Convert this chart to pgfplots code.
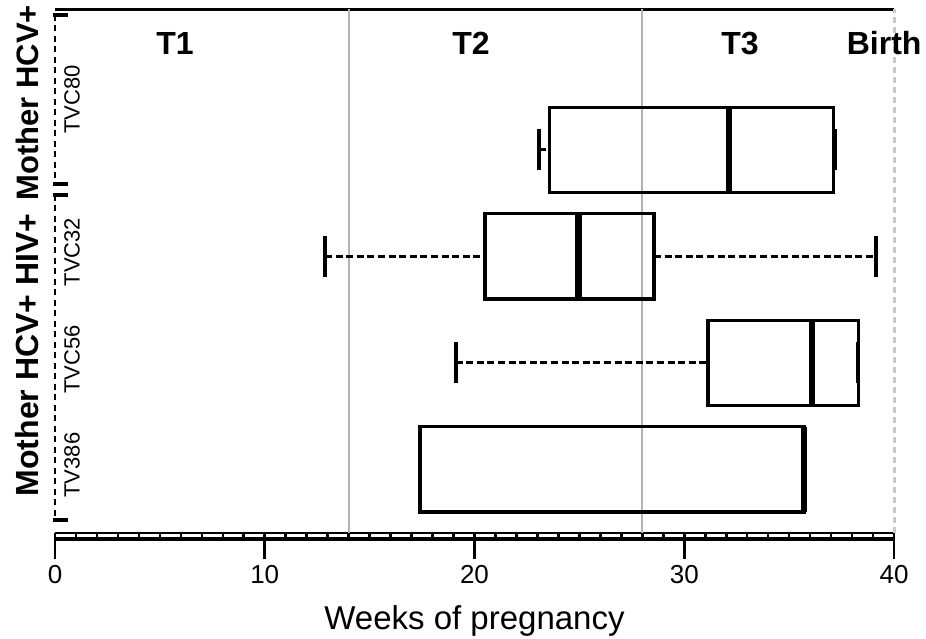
\documentclass[border=0pt]{standalone}
\usepackage{pgfplots}
\pgfplotsset{compat=1.18}
\usepgfplotslibrary{statistics}
\usepackage{fontspec}
\setmainfont{Liberation Sans}

\definecolor{trimline}{HTML}{B4B4B4}
\definecolor{birthline}{HTML}{C8C8C8}

% whiskers: dashed stem, solid cap
\pgfplotsset{
  /pgfplots/boxplot/draw/lower whisker/.code={%
    \draw[black, line width=3pt, dash pattern=on 7pt off 3.6pt]
      (boxplot box cs:\pgfplotsboxplotvalue{lower whisker},0.5) --
      (boxplot box cs:\pgfplotsboxplotvalue{lower quartile},0.5);
    \draw[black, line width=4pt]
      (boxplot whisker cs:\pgfplotsboxplotvalue{lower whisker},0) --
      (boxplot whisker cs:\pgfplotsboxplotvalue{lower whisker},1);
  },
  /pgfplots/boxplot/draw/upper whisker/.code={%
    \draw[black, line width=3pt, dash pattern=on 7pt off 3.6pt]
      (boxplot box cs:\pgfplotsboxplotvalue{upper quartile},0.5) --
      (boxplot box cs:\pgfplotsboxplotvalue{upper whisker},0.5);
    \draw[black, line width=4pt]
      (boxplot whisker cs:\pgfplotsboxplotvalue{upper whisker},0) --
      (boxplot whisker cs:\pgfplotsboxplotvalue{upper whisker},1);
  },
}

\begin{document}
\begin{tikzpicture}
\useasboundingbox (0,0) rectangle (926pt,639pt);
\begin{axis}[
  at={(55pt,106pt)}, anchor=south west,
  scale only axis, width=839pt, height=523.5pt,
  xmin=0, xmax=40, ymin=0.402, ymax=5.317,
  axis x line=box, axis y line=none,
  x axis line style={-, line width=2.8pt},
  xtick pos=bottom,
  xtick={0,10,20,30,40},
  minor x tick num=9,
  ytick=\empty,
  tick align=outside,
  major tick length=26pt,
  minor tick length=6.5pt,
  major x tick style={black, line width=2.8pt},
  minor x tick style={black, line width=2.6pt},
  /pgf/number format/assume math mode=true,
  xticklabel style={font=\fontsize{26}{30}\selectfont, yshift=-3pt},
  clip=false,
  boxplot/draw direction=x,
  boxplot/box extend=0.8,
  boxplot/whisker extend=0.385,
  boxplot/every box/.style={line width=3.3pt},
  boxplot/every median/.style={line width=6.5pt},
]
% trimester boundaries and term
\draw[trimline, line width=2.2pt] (axis cs:14,0.402) -- (axis cs:14,5.317);
\draw[trimline, line width=2.2pt] (axis cs:28,0.402) -- (axis cs:28,5.317);
\draw[birthline, line width=3pt, dash pattern=on 6pt off 4pt] (axis cs:40,0.402) -- (axis cs:40,5.317);

% second line of the ladder-style x axis
\draw[black, line width=4pt] ([yshift=-6.5pt]rel axis cs:0,0) -- ([yshift=-6.5pt]rel axis cs:1,0);

% detection windows per infant
\addplot[black, boxplot prepared={draw position=4,
  lower whisker=23.07, lower quartile=23.57, median=32.13,
  upper quartile=37.13, upper whisker=37.18}] coordinates {};
\addplot[black, boxplot prepared={draw position=3,
  lower whisker=12.87, lower quartile=20.50, median=24.95,
  upper quartile=28.56, upper whisker=39.12}] coordinates {};
\addplot[black, boxplot prepared={draw position=2,
  lower whisker=19.10, lower quartile=31.13, median=36.08,
  upper quartile=38.30, upper whisker=38.30}] coordinates {};
\addplot[black, boxplot prepared={draw position=1,
  lower whisker=17.40, lower quartile=17.40, median=35.71,
  upper quartile=35.71, upper whisker=35.71}] coordinates {};

% group brackets
\draw[black, line width=2.6pt, dash pattern=on 6pt off 4.5pt] (axis cs:0,5.266) -- (axis cs:0,3.679);
\draw[black, line width=2.6pt, dash pattern=on 6pt off 4.5pt] (axis cs:0,3.576) -- (axis cs:0,0.524);
\draw[black, line width=3.5pt] (axis cs:-0.1,5.266) -- (axis cs:0.62,5.266);
\draw[black, line width=3.5pt] (axis cs:-0.1,3.679) -- (axis cs:0.62,3.679);
\draw[black, line width=3.5pt] (axis cs:-0.1,3.576) -- (axis cs:0.62,3.576);
\draw[black, line width=3.5pt] (axis cs:-0.1,0.524) -- (axis cs:0.62,0.524);

% period labels
\begin{scope}[every node/.style={font=\bfseries\fontsize{32}{38}\selectfont}]
\node at (axis cs:5.72,5.0) {T1};
\node at (axis cs:19.83,5.0) {T2};
\node at (axis cs:32.66,5.0) {T3};
\node at (axis cs:39.53,5.0) {Birth};
\end{scope}

% row and group labels
\begin{scope}[every node/.style={rotate=90, font=\fontsize{22}{26}\selectfont}]
\node at (axis cs:0.81,4.47) {TVC80};
\node at (axis cs:0.81,3.04) {TVC32};
\node at (axis cs:0.81,2.03) {TVC56};
\node at (axis cs:0.81,1.04) {TV386};
\end{scope}
\node[rotate=90, font=\bfseries\fontsize{31}{36}\selectfont] at (axis cs:-1.335,4.44) {Mother HCV+};
\node[rotate=90, font=\bfseries\fontsize{32}{38}\selectfont] at (axis cs:-1.335,2.073) {Mother HCV+ HIV+};

\node[font=\fontsize{33}{38}\selectfont] at (axis cs:20,-0.42) {Weeks of pregnancy};
\end{axis}
\end{tikzpicture}
\end{document}
